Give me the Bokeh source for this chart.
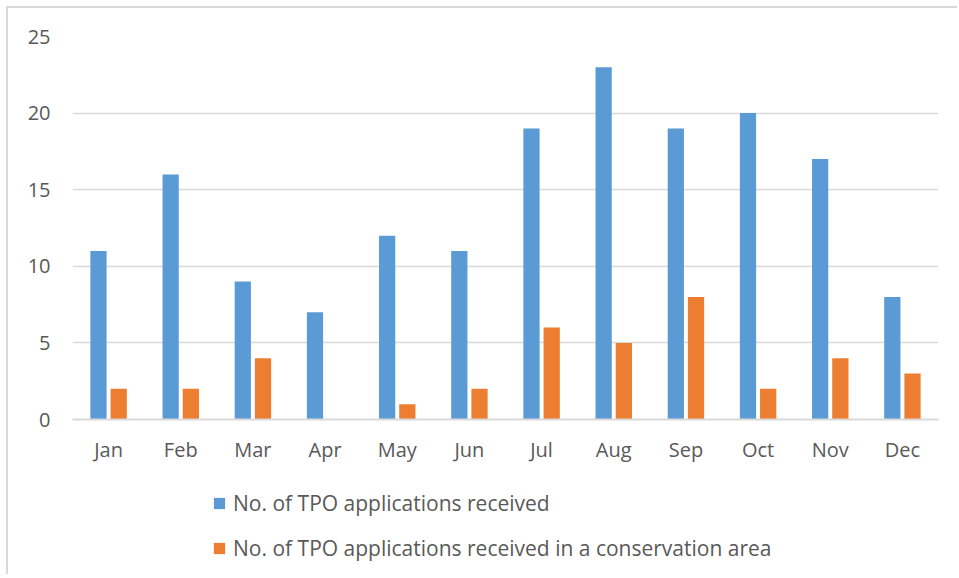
from bokeh.plotting import figure
from bokeh.layouts import column
from bokeh.models import ColumnDataSource, FactorRange, Range1d, Legend, LegendItem, FixedTicker
from bokeh.transform import dodge
from bokeh.embed import file_html
from bokeh.resources import INLINE

months = ["Jan", "Feb", "Mar", "Apr", "May", "Jun", "Jul", "Aug", "Sep", "Oct", "Nov", "Dec"]
received = [11, 16, 9, 7, 12, 11, 19, 23, 19, 20, 17, 8]
conservation = [2, 2, 4, 0, 1, 2, 6, 5, 8, 2, 4, 3]
series_names = ["No. of TPO applications received",
                "No. of TPO applications received in a conservation area"]
colors = ["#5B9BD5", "#ED7D31"]
y_ticks = [0, 5, 10, 15, 20, 25]

src = ColumnDataSource(dict(month=months, received=received, conservation=conservation))

FONT = "Open Sans"
TXT = "#595959"
BORDER = "2px solid #d9d9d9"

p = figure(x_range=FactorRange(*months, range_padding=0), y_range=Range1d(0, 25),
           width=951, height=470, output_backend="svg", toolbar_location=None,
           min_border_left=64, min_border_right=21, min_border_top=28, min_border_bottom=59)
p.styles = {"border-left": BORDER, "border-top": BORDER, "box-sizing": "border-box"}

r1 = p.vbar(x=dodge("month", -0.14, range=p.x_range), top="received", width=0.225,
            source=src, fill_color=colors[0], line_color=None)
r2 = p.vbar(x=dodge("month", 0.14, range=p.x_range), top="conservation", width=0.225,
            source=src, fill_color=colors[1], line_color=None)

p.outline_line_color = None
p.xgrid.grid_line_color = None
p.ygrid.grid_line_color = "#d9d9d9"
p.ygrid.grid_line_width = 1.3
p.yaxis.ticker = FixedTicker(ticks=y_ticks)

for ax in (p.xaxis[0], p.yaxis[0]):
    ax.major_tick_line_color = None
    ax.minor_tick_line_color = None
    ax.major_label_text_font = FONT
    ax.major_label_text_font_size = "20px"
    ax.major_label_text_color = TXT
p.yaxis.axis_line_color = None
p.yaxis.major_label_standoff = 16
p.xaxis.axis_line_color = "#d9d9d9"
p.xaxis.axis_line_width = 2
p.xaxis.major_label_standoff = 10

# legend panel below the chart (same data, drawn out of view; only the legend shows)
pl = figure(x_range=p.x_range, y_range=Range1d(100, 101), width=951, height=98,
            output_backend="svg", toolbar_location=None, min_border=0,
            x_axis_location=None, y_axis_location=None)
pl.styles = {"border-left": BORDER, "box-sizing": "border-box"}
pl.grid.visible = False
pl.outline_line_color = None
l1 = pl.vbar(x=dodge("month", -0.14, range=p.x_range), top="received", width=0.225,
             source=src, fill_color=colors[0], line_color=None)
l2 = pl.vbar(x=dodge("month", 0.14, range=p.x_range), top="conservation", width=0.225,
             source=src, fill_color=colors[1], line_color=None)

legend = Legend(items=[LegendItem(label=series_names[0], renderers=[l1], index=0),
                       LegendItem(label=series_names[1], renderers=[l2], index=0)],
                location=(140, 4), orientation="vertical",
                padding=0, margin=0, spacing=0,
                glyph_width=14, glyph_height=14, label_standoff=7, label_height=45,
                label_text_font=FONT, label_text_font_size="21px", label_text_color=TXT,
                border_line_color=None, background_fill_alpha=0)
pl.add_layout(legend, "center")

layout = column(p, pl, spacing=0)
layout.styles = {"margin-left": "6px", "margin-top": "6px"}

open("out.html", "w").write(file_html(layout, INLINE))
